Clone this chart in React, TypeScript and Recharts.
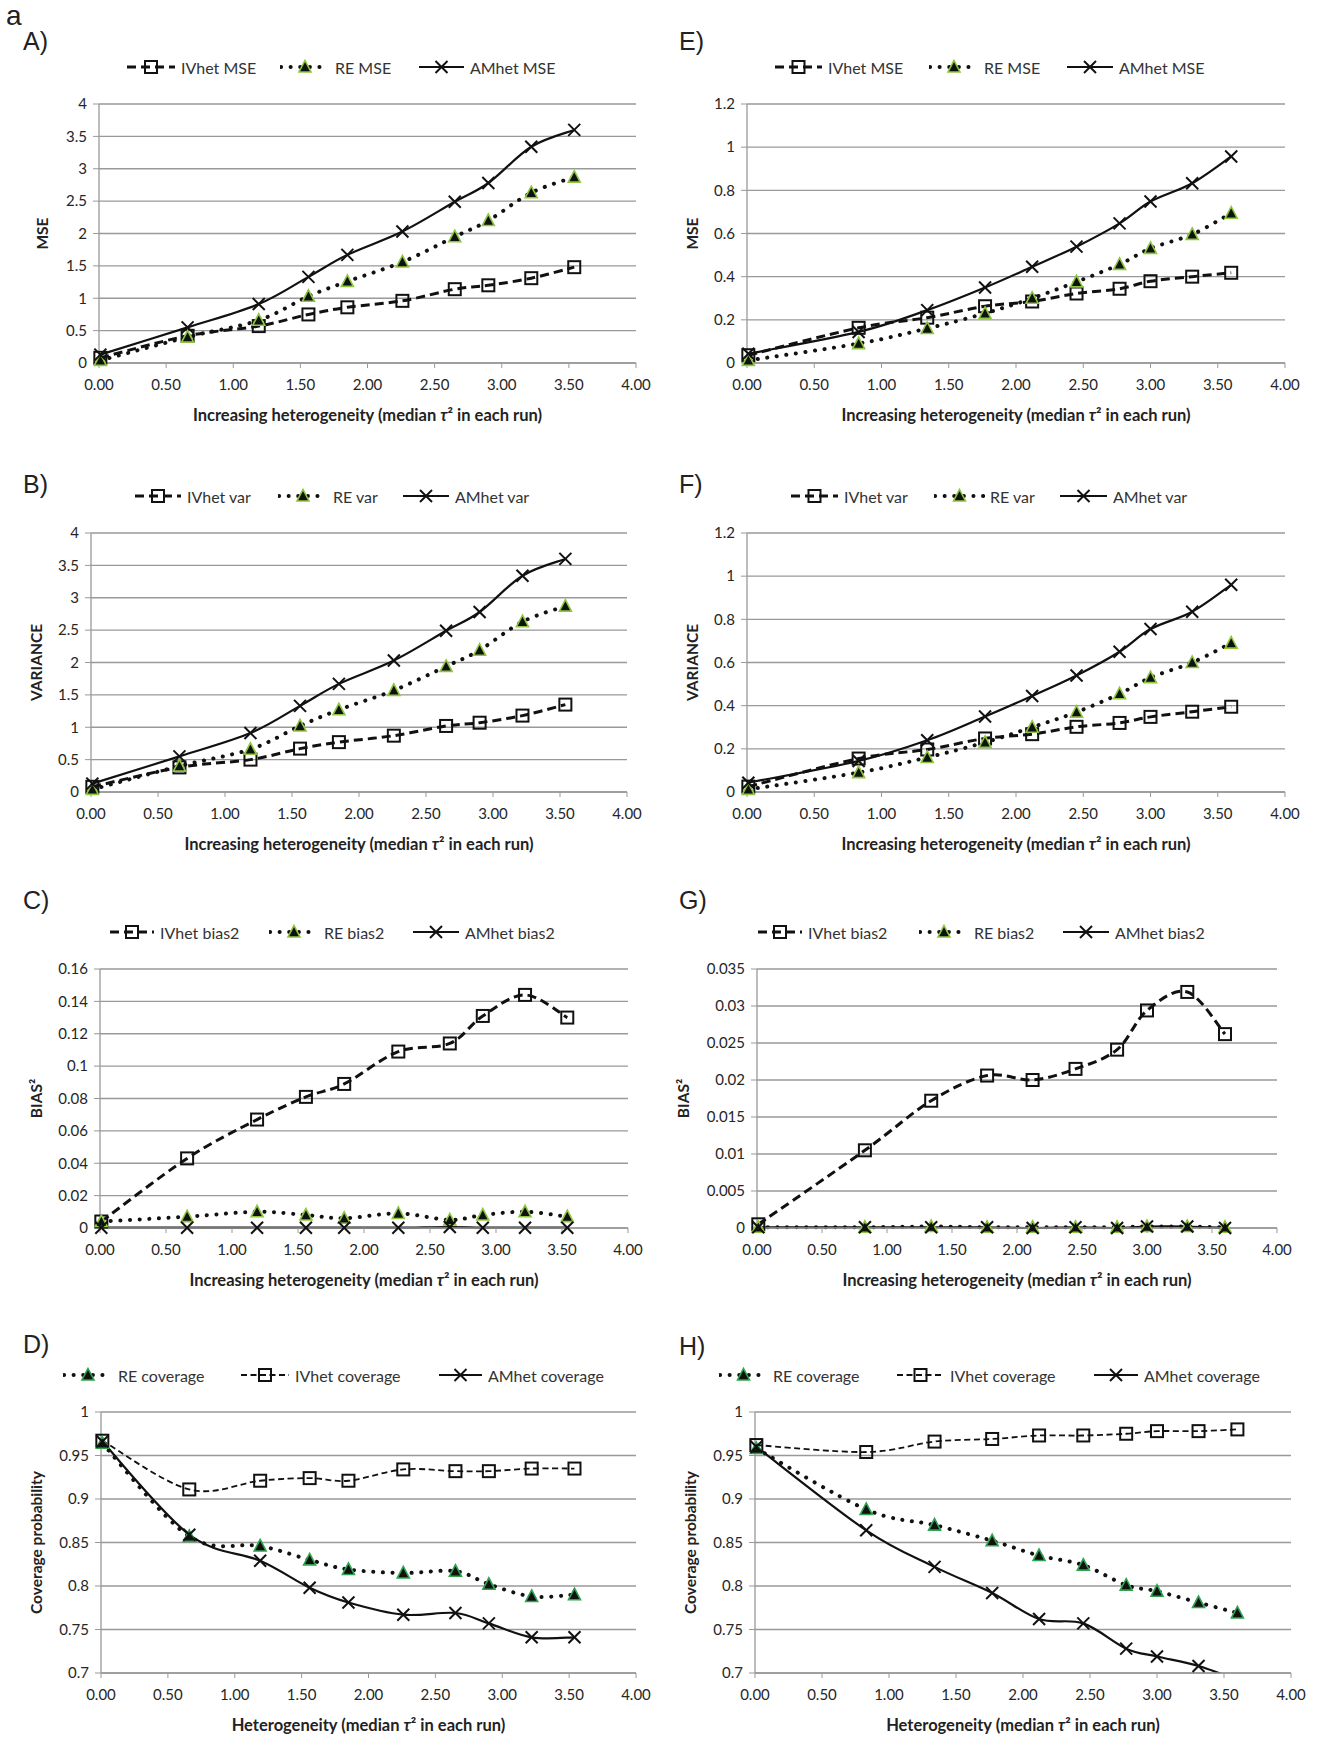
import React from "react";
import { LineChart, Line, XAxis, YAxis, CartesianGrid, Legend } from "recharts";

// ---- data ----
const xLeft = [0.01, 0.66, 1.19, 1.56, 1.85, 2.26, 2.65, 2.9, 3.22, 3.54];
const xRight = [0.01, 0.83, 1.34, 1.77, 2.12, 2.45, 2.77, 3.0, 3.31, 3.6];
const xTicks = [0, 0.5, 1, 1.5, 2, 2.5, 3, 3.5, 4];

// A) MSE
const mseIvhetA = [0.08, 0.42, 0.57, 0.75, 0.86, 0.96, 1.14, 1.2, 1.31, 1.48];
const mseReA = [0.04, 0.4, 0.66, 1.03, 1.26, 1.56, 1.95, 2.2, 2.63, 2.87];
const mseAmhetA = [0.13, 0.55, 0.91, 1.33, 1.67, 2.03, 2.49, 2.78, 3.34, 3.6];
// B) variance
const varIvhetB = [0.08, 0.38, 0.5, 0.67, 0.77, 0.87, 1.02, 1.07, 1.18, 1.35];
const varReB = [0.04, 0.4, 0.66, 1.02, 1.27, 1.57, 1.94, 2.19, 2.63, 2.87];
const varAmhetB = [0.13, 0.55, 0.91, 1.33, 1.67, 2.03, 2.49, 2.78, 3.34, 3.6];
// C) bias2
const biasIvhetC = [0.004, 0.043, 0.067, 0.081, 0.089, 0.109, 0.114, 0.131, 0.144, 0.13];
const biasReC = [0.004, 0.007, 0.01, 0.008, 0.006, 0.009, 0.005, 0.008, 0.01, 0.007];
const biasAmhetC = [0.0002, 0.0002, 0.0002, 0.0002, 0.0002, 0.0002, 0.0006, 0.0002, 0.0002, 0.0002];
// D) coverage
const covReD = [0.964, 0.857, 0.846, 0.83, 0.819, 0.815, 0.817, 0.802, 0.788, 0.79];
const covIvhetD = [0.967, 0.911, 0.921, 0.924, 0.921, 0.934, 0.932, 0.932, 0.935, 0.935];
const covAmhetD = [0.966, 0.859, 0.829, 0.798, 0.781, 0.767, 0.769, 0.757, 0.741, 0.741];
// E) MSE
const mseIvhetE = [0.036, 0.163, 0.21, 0.263, 0.285, 0.322, 0.344, 0.379, 0.4, 0.418];
const mseReE = [0.012, 0.09, 0.16, 0.23, 0.3, 0.376, 0.457, 0.531, 0.596, 0.694];
const mseAmhetE = [0.043, 0.144, 0.245, 0.35, 0.446, 0.539, 0.647, 0.748, 0.833, 0.957];
// F) variance
const varIvhetF = [0.025, 0.155, 0.197, 0.248, 0.268, 0.302, 0.32, 0.348, 0.372, 0.395];
const varReF = [0.012, 0.09, 0.16, 0.23, 0.3, 0.37, 0.455, 0.53, 0.6, 0.69];
const varAmhetF = [0.043, 0.144, 0.24, 0.35, 0.445, 0.54, 0.65, 0.755, 0.835, 0.96];
// G) bias2
const biasIvhetG = [0.0005, 0.0105, 0.0172, 0.0206, 0.02, 0.0215, 0.0241, 0.0294, 0.0319, 0.0262];
const biasReG = [0.0001, 0.0001, 0.0002, 0.0001, 0.0001, 0.0001, 0.0001, 0.0002, 0.0002, 0.0001];
const biasAmhetG = [0.0001, 0.0001, 0.0001, 0.0001, 0.0, 0.0001, 0.0, 0.0002, 0.0002, 0.0];
// H) coverage
const covReH = [0.958, 0.888, 0.87, 0.852, 0.835, 0.824, 0.801, 0.794, 0.781, 0.769];
const covIvhetH = [0.962, 0.954, 0.966, 0.969, 0.973, 0.973, 0.975, 0.978, 0.978, 0.98];
const covAmhetH = [0.96, 0.864, 0.822, 0.792, 0.762, 0.757, 0.728, 0.719, 0.708, 0.692];

const ticksMse = [0, 0.5, 1, 1.5, 2, 2.5, 3, 3.5, 4];
const ticksMseSmall = [0, 0.2, 0.4, 0.6, 0.8, 1, 1.2];
const ticksBiasC = [0, 0.02, 0.04, 0.06, 0.08, 0.1, 0.12, 0.14, 0.16];
const ticksBiasG = [0, 0.005, 0.01, 0.015, 0.02, 0.025, 0.03, 0.035];
const ticksCov = [0.7, 0.75, 0.8, 0.85, 0.9, 0.95, 1];

// ---- styling ----
const FONT = "Lato, 'Open Sans', sans-serif";
const INK = "#111";
const GRID = "#999";
const W = 659;
const H = 425;

type Kind = "iv" | "re" | "am";
type Row = { x: number; iv: number; re: number; am: number };

function buildRows(xs: number[], iv: number[], re: number[], am: number[]): Row[] {
  return xs.map((x, i) => ({ x, iv: iv[i], re: re[i], am: am[i] }));
}

// Excel-like smoothed line (Catmull-Rom through the points)
function excelCurve(context: any) {
  let pts: [number, number][] = [];
  return {
    areaStart() {},
    areaEnd() {},
    lineStart() {
      pts = [];
    },
    lineEnd() {
      if (!pts.length) return;
      context.moveTo(pts[0][0], pts[0][1]);
      for (let i = 0; i < pts.length - 1; i++) {
        const p0 = pts[i - 1] || pts[i];
        const p1 = pts[i];
        const p2 = pts[i + 1];
        const p3 = pts[i + 2] || p2;
        const t = 1 / 6;
        context.bezierCurveTo(
          p1[0] + (p2[0] - p0[0]) * t,
          p1[1] + (p2[1] - p0[1]) * t,
          p2[0] - (p3[0] - p1[0]) * t,
          p2[1] - (p3[1] - p1[1]) * t,
          p2[0],
          p2[1]
        );
      }
    },
    point(x: number, y: number) {
      pts.push([+x, +y]);
    },
  };
}

function lineStyle(kind: Kind, thin: boolean): any {
  if (kind === "iv")
    return thin
      ? { stroke: INK, strokeWidth: 1.8, strokeDasharray: "6 3.5" }
      : { stroke: INK, strokeWidth: 3, strokeDasharray: "9 5" };
  if (kind === "re")
    return { stroke: INK, strokeWidth: 4, strokeDasharray: "0.1 9.5", strokeLinecap: "round" };
  return { stroke: INK, strokeWidth: 2.2 };
}

function Marker({ kind, cx, cy, green }: { kind: Kind; cx: number; cy: number; green: string }) {
  if (kind === "iv")
    return <rect x={cx - 6} y={cy - 6} width={12} height={12} fill="none" stroke={INK} strokeWidth={2} />;
  if (kind === "re")
    return (
      <path
        d={`M${cx},${cy - 6.5}L${cx + 6},${cy + 5}L${cx - 6},${cy + 5}Z`}
        fill={INK}
        stroke={green}
        strokeWidth={1.6}
      />
    );
  return (
    <g stroke={INK} strokeWidth={2}>
      <line x1={cx - 6} y1={cy - 6} x2={cx + 6} y2={cy + 6} />
      <line x1={cx - 6} y1={cy + 6} x2={cx + 6} y2={cy - 6} />
    </g>
  );
}

interface LegendItem {
  kind: Kind;
  label: string;
  x: number;
  tx: number;
}

interface PanelDef {
  letter: string;
  left: number;
  top: number;
  plot: { l: number; r: number; t: number; b: number };
  letterX: number;
  letterTop: number;
  data: Row[];
  yDomain: [number, number];
  yTicks: number[];
  yTitle: string;
  yTitleX: number;
  xTitle: string;
  legend: LegendItem[];
  legendY: number;
  coverage?: boolean;
  green: string;
}

const GREEN = "#8dc63f";
const GREEN_COV = "#2ea44f";

const panels: PanelDef[] = [
  {
    letter: "A)", left: 0, top: 0, plot: { l: 99, r: 636, t: 104, b: 363 }, letterX: 23, letterTop: 29,
    data: buildRows(xLeft, mseIvhetA, mseReA, mseAmhetA), yDomain: [0, 4], yTicks: ticksMse,
    yTitle: "MSE", yTitleX: 42, xTitle: "Increasing heterogeneity", legendY: 67, green: GREEN,
    legend: [
      { kind: "iv", label: "IVhet MSE", x: 126, tx: 181 },
      { kind: "re", label: "RE MSE", x: 280, tx: 335 },
      { kind: "am", label: "AMhet MSE", x: 418, tx: 470 },
    ],
  },
  {
    letter: "B)", left: 0, top: 430, plot: { l: 91, r: 627, t: 533, b: 792 }, letterX: 23, letterTop: 42,
    data: buildRows(xLeft, varIvhetB, varReB, varAmhetB), yDomain: [0, 4], yTicks: ticksMse,
    yTitle: "VARIANCE", yTitleX: 36, xTitle: "Increasing heterogeneity", legendY: 66, green: GREEN,
    legend: [
      { kind: "iv", label: "IVhet var", x: 134, tx: 187 },
      { kind: "re", label: "RE var", x: 278, tx: 333 },
      { kind: "am", label: "AMhet var", x: 402, tx: 455 },
    ],
  },
  {
    letter: "C)", left: 0, top: 870, plot: { l: 100, r: 628, t: 969, b: 1228 }, letterX: 23, letterTop: 18,
    data: buildRows(xLeft, biasIvhetC, biasReC, biasAmhetC), yDomain: [0, 0.16], yTicks: ticksBiasC,
    yTitle: "BIAS²", yTitleX: 36, xTitle: "Increasing heterogeneity", legendY: 62, green: GREEN,
    legend: [
      { kind: "iv", label: "IVhet bias2", x: 109, tx: 160 },
      { kind: "re", label: "RE bias2", x: 269, tx: 324 },
      { kind: "am", label: "AMhet bias2", x: 412, tx: 465 },
    ],
  },
  {
    letter: "D)", left: 0, top: 1310, plot: { l: 101, r: 636, t: 1412, b: 1673 }, letterX: 23, letterTop: 22,
    data: buildRows(xLeft, covIvhetD, covReD, covAmhetD), yDomain: [0.7, 1], yTicks: ticksCov,
    yTitle: "Coverage probability", yTitleX: 36, xTitle: "Heterogeneity", legendY: 65, coverage: true, green: GREEN_COV,
    legend: [
      { kind: "re", label: "RE coverage", x: 63, tx: 118 },
      { kind: "iv", label: "IVhet coverage", x: 240, tx: 295 },
      { kind: "am", label: "AMhet coverage", x: 438, tx: 488 },
    ],
  },
  {
    letter: "E)", left: 660, top: 0, plot: { l: 747, r: 1285, t: 104, b: 363 }, letterX: 19, letterTop: 29,
    data: buildRows(xRight, mseIvhetE, mseReE, mseAmhetE), yDomain: [0, 1.2], yTicks: ticksMseSmall,
    yTitle: "MSE", yTitleX: 32, xTitle: "Increasing heterogeneity", legendY: 67, green: GREEN,
    legend: [
      { kind: "iv", label: "IVhet MSE", x: 114, tx: 168 },
      { kind: "re", label: "RE MSE", x: 269, tx: 324 },
      { kind: "am", label: "AMhet MSE", x: 406, tx: 459 },
    ],
  },
  {
    letter: "F)", left: 660, top: 430, plot: { l: 747, r: 1285, t: 533, b: 792 }, letterX: 19, letterTop: 42,
    data: buildRows(xRight, varIvhetF, varReF, varAmhetF), yDomain: [0, 1.2], yTicks: ticksMseSmall,
    yTitle: "VARIANCE", yTitleX: 32, xTitle: "Increasing heterogeneity", legendY: 66, green: GREEN,
    legend: [
      { kind: "iv", label: "IVhet var", x: 130, tx: 184 },
      { kind: "re", label: "RE var", x: 274, tx: 330 },
      { kind: "am", label: "AMhet var", x: 399, tx: 453 },
    ],
  },
  {
    letter: "G)", left: 660, top: 870, plot: { l: 757, r: 1277, t: 969, b: 1228 }, letterX: 19, letterTop: 18,
    data: buildRows(xRight, biasIvhetG, biasReG, biasAmhetG), yDomain: [0, 0.035], yTicks: ticksBiasG,
    yTitle: "BIAS²", yTitleX: 23, xTitle: "Increasing heterogeneity", legendY: 62, green: GREEN,
    legend: [
      { kind: "iv", label: "IVhet bias2", x: 97, tx: 148 },
      { kind: "re", label: "RE bias2", x: 259, tx: 314 },
      { kind: "am", label: "AMhet bias2", x: 402, tx: 455 },
    ],
  },
  {
    letter: "H)", left: 660, top: 1310, plot: { l: 755, r: 1291, t: 1412, b: 1673 }, letterX: 19, letterTop: 24,
    data: buildRows(xRight, covIvhetH, covReH, covAmhetH), yDomain: [0.7, 1], yTicks: ticksCov,
    yTitle: "Coverage probability", yTitleX: 30, xTitle: "Heterogeneity", legendY: 65, coverage: true, green: GREEN_COV,
    legend: [
      { kind: "re", label: "RE coverage", x: 59, tx: 113 },
      { kind: "iv", label: "IVhet coverage", x: 236, tx: 290 },
      { kind: "am", label: "AMhet coverage", x: 433, tx: 484 },
    ],
  },
];

const tickStyle = { fill: "#262626", fontSize: 15, fontFamily: FONT };
const xTitleStyle = { fill: "#222", fontSize: 16.5, fontWeight: 700, fontFamily: FONT };
const yTitleStyle = { fill: "#222", fontSize: 15.5, fontWeight: 700, fontFamily: FONT };

function LegendRow({ items, thin, green }: { items: LegendItem[]; thin: boolean; green: string }) {
  return (
    <div style={{ position: "relative", width: W, height: 20, fontFamily: FONT, fontSize: 16, color: "#333" }}>
      {items.map((it) => {
        const w = it.tx - it.x - 5;
        return (
          <div
            key={it.kind}
            style={{ position: "absolute", left: it.x, top: 0, height: 20, display: "flex", alignItems: "center", whiteSpace: "nowrap" }}
          >
            <svg width={w} height={20} style={{ display: "block" }}>
              <line x1={1} y1={10} x2={w - 1} y2={10} {...lineStyle(it.kind, thin)} />
              <Marker kind={it.kind} cx={w / 2} cy={10} green={green} />
            </svg>
            <span style={{ marginLeft: 5 }}>{it.label}</span>
          </div>
        );
      })}
    </div>
  );
}

function Panel({ def }: { def: PanelDef }) {
  const { plot } = def;
  const thin = !!def.coverage;
  const margin = {
    top: plot.t - def.top,
    right: def.left + W - plot.r,
    bottom: def.top + H - plot.b - 60,
    left: 0,
  };
  const series: Kind[] = ["iv", "re", "am"];
  return (
    <div style={{ position: "absolute", left: def.left, top: def.top, width: W, height: H }}>
      <div
        style={{
          position: "absolute",
          left: def.letterX,
          top: def.letterTop,
          fontFamily: "'Liberation Sans', Arial, sans-serif",
          fontSize: 25,
          lineHeight: 1,
          color: "#222",
          zIndex: 2,
        }}
      >
        {def.letter}
      </div>
      <LineChart width={W} height={H} data={def.data} margin={margin}>
        <CartesianGrid vertical={false} stroke={GRID} strokeWidth={1.3} />
        <XAxis
          type="number"
          dataKey="x"
          domain={[0, 4]}
          ticks={xTicks}
          interval={0}
          tickFormatter={(v: number) => v.toFixed(2)}
          height={60}
          tickSize={5}
          tickMargin={11}
          axisLine={{ stroke: GRID, strokeWidth: 1.3 }}
          tickLine={{ stroke: GRID }}
          tick={tickStyle}
          label={(p: any) => {
            const vb = p.viewBox;
            return (
              <text
                x={vb.x + vb.width / 2}
                y={vb.y + 52}
                textAnchor="middle"
                dominantBaseline="central"
                style={xTitleStyle}
              >
                {def.xTitle} (median <tspan fontStyle="italic">τ</tspan>² in each run)
              </text>
            );
          }}
        />
        <YAxis
          type="number"
          domain={def.yDomain}
          ticks={def.yTicks}
          interval={0}
          allowDataOverflow={thin}
          width={plot.l - def.left}
          tickSize={6}
          tickMargin={6}
          axisLine={{ stroke: GRID, strokeWidth: 1.3 }}
          tickLine={{ stroke: GRID }}
          tick={tickStyle}
          label={(p: any) => {
            const vb = p.viewBox;
            const cy = vb.y + vb.height / 2;
            return (
              <text
                x={def.yTitleX}
                y={cy}
                transform={`rotate(-90 ${def.yTitleX} ${cy})`}
                textAnchor="middle"
                dominantBaseline="central"
                style={yTitleStyle}
              >
                {def.yTitle}
              </text>
            );
          }}
        />
        <Legend
          layout="vertical"
          align="center"
          verticalAlign="middle"
          wrapperStyle={{ top: def.legendY - 10, left: 0, width: W, height: 20 }}
          content={() => <LegendRow items={def.legend} thin={thin} green={def.green} />}
        />
        {series.map((k) => (
          <Line
            key={k}
            dataKey={k}
            type={excelCurve as any}
            {...lineStyle(k, thin)}
            fill="none"
            dot={(p: any) => <Marker key={`${k}-${p.index}`} kind={k} cx={p.cx} cy={p.cy} green={def.green} />}
            activeDot={false}
            isAnimationActive={false}
          />
        ))}
      </LineChart>
    </div>
  );
}

export default function App() {
  return (
    <div style={{ position: "absolute", left: 0, top: 0, width: 1319, height: 1737, overflow: "hidden", background: "#fff" }}>
      <div
        style={{
          position: "absolute",
          left: 6,
          top: 2,
          fontFamily: "'Liberation Sans', Arial, sans-serif",
          fontSize: 28,
          lineHeight: 1,
          color: "#222",
        }}
      >
        a
      </div>
      {panels.map((p) => (
        <Panel key={p.letter} def={p} />
      ))}
    </div>
  );
}
